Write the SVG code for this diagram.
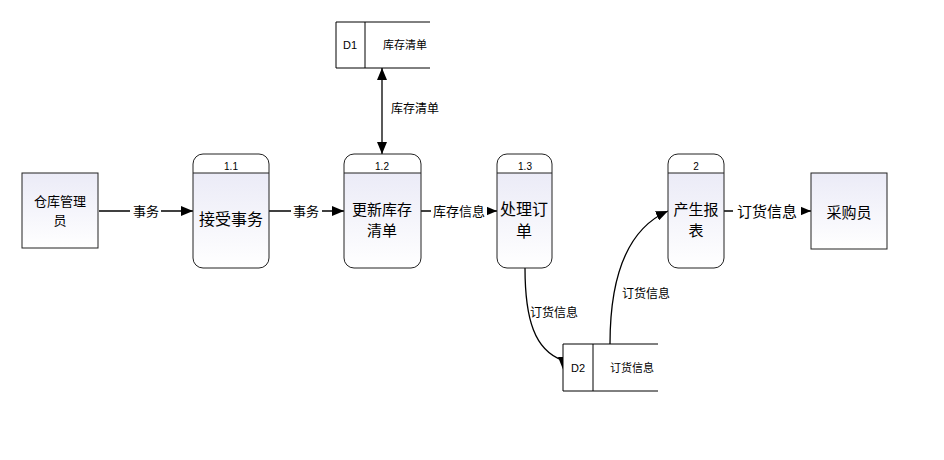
<svg xmlns="http://www.w3.org/2000/svg" width="944" height="460" viewBox="0 0 944 460">
<defs>
<linearGradient id="g" x1="0" y1="0" x2="0" y2="1">
<stop offset="0" stop-color="#ebebf7"/>
<stop offset="1" stop-color="#ffffff"/>
</linearGradient>
<marker id="ah" viewBox="0 0 12 10" refX="12" refY="5" markerWidth="12" markerHeight="10" markerUnits="userSpaceOnUse" orient="auto">
<path d="M0,0 L12,5 L0,10 Z" fill="#000"/>
</marker>
<marker id="ahs" viewBox="0 0 12 10" refX="12" refY="5" markerWidth="12" markerHeight="10" markerUnits="userSpaceOnUse" orient="auto-start-reverse">
<path d="M0,0 L12,5 L0,10 Z" fill="#000"/>
</marker>
</defs>
<style>
.box{fill:url(#g);stroke:#222;stroke-width:1}
.body{fill:url(#g);stroke:none}
.frame{fill:none;stroke:#222;stroke-width:1}
.hd{stroke:#222;stroke-width:1}
.ln{fill:none;stroke:#000;stroke-width:1.3}
.st{fill:none;stroke:#000;stroke-width:1}
text{font-family:"Noto Sans CJK SC","Liberation Sans",sans-serif;fill:#000;text-anchor:middle}
.t13{font-size:13px}
.t15{font-size:15px}
.t16{font-size:16px}
.t11{font-size:11px}
.t12{font-size:12px}
.num{font-family:"Liberation Sans",sans-serif;font-size:10px}
.lb{fill:#fff}
</style>
<rect width="944" height="460" fill="#fff"/>

<g id="connectors">
<line class="ln" x1="99" y1="211" x2="193" y2="211" marker-end="url(#ah)"/>
<rect class="lb" x="130" y="203" width="31" height="16"/>
<text class="t13" x="146" y="216">事务</text>

<line class="ln" x1="269" y1="211" x2="344" y2="211" marker-end="url(#ah)"/>
<rect class="lb" x="291" y="203" width="31" height="16"/>
<text class="t13" x="306" y="216">事务</text>

<line class="ln" x1="421" y1="211" x2="497" y2="211" marker-end="url(#ah)"/>
<rect class="lb" x="431" y="203" width="56" height="16"/>
<text class="t13" x="459" y="216">库存信息</text>

<line class="ln" x1="724" y1="211" x2="811" y2="211" marker-end="url(#ah)"/>
<rect class="lb" x="733" y="202" width="68" height="18"/>
<text class="t15" x="767" y="217">订货信息</text>

<line class="ln" x1="382" y1="68" x2="382" y2="154" marker-start="url(#ahs)" marker-end="url(#ah)"/>
<text class="t12" x="415" y="113">库存清单</text>

<path class="ln" d="M525,268 C525,320 535,350 562,360"/>
<path d="M558,357 L569,357 L564,372 Z" fill="#000"/>
<text class="t12" x="554" y="317">订货信息</text>

<path class="ln" d="M610,344 C610,280 625,230 668,211" marker-end="url(#ah)"/>
<text class="t12" x="646" y="298">订货信息</text>
</g>

<g id="e1">
<rect class="box" x="22" y="173" width="76" height="75"/>
<text class="t13" x="60" y="206">仓库管理</text>
<text class="t13" x="60" y="225">员</text>
</g>

<g id="p11">
<rect x="193" y="154" width="76" height="114" rx="10" fill="#fff"/>
<path class="body" d="M193,173 H269 V258 A10,10 0 0 1 259,268 H203 A10,10 0 0 1 193,258 Z"/>
<rect class="frame" x="193" y="154" width="76" height="114" rx="10"/>
<line class="hd" x1="193" y1="173" x2="269" y2="173"/>
<text class="num" x="231" y="170">1.1</text>
<text class="t16" x="231" y="225">接受事务</text>
</g>

<g id="p12">
<rect x="344" y="154" width="77" height="114" rx="10" fill="#fff"/>
<path class="body" d="M344,173 H421 V258 A10,10 0 0 1 411,268 H354 A10,10 0 0 1 344,258 Z"/>
<rect class="frame" x="344" y="154" width="77" height="114" rx="10"/>
<line class="hd" x1="344" y1="173" x2="421" y2="173"/>
<text class="num" x="382" y="170">1.2</text>
<text class="t15" x="382" y="215">更新库存</text>
<text class="t15" x="382" y="236">清单</text>
</g>

<g id="p13">
<rect x="497" y="154" width="55" height="114" rx="10" fill="#fff"/>
<path class="body" d="M497,173 H552 V258 A10,10 0 0 1 542,268 H507 A10,10 0 0 1 497,258 Z"/>
<rect class="frame" x="497" y="154" width="55" height="114" rx="10"/>
<line class="hd" x1="497" y1="173" x2="552" y2="173"/>
<text class="num" x="525" y="170">1.3</text>
<text class="t16" x="524" y="215">处理订</text>
<text class="t16" x="524" y="237">单</text>
</g>

<g id="p2">
<rect x="668" y="154" width="56" height="114" rx="10" fill="#fff"/>
<path class="body" d="M668,173 H724 V258 A10,10 0 0 1 714,268 H678 A10,10 0 0 1 668,258 Z"/>
<rect class="frame" x="668" y="154" width="56" height="114" rx="10"/>
<line class="hd" x1="668" y1="173" x2="724" y2="173"/>
<text class="num" x="696" y="170">2</text>
<text class="t15" x="696" y="215">产生报</text>
<text class="t15" x="696" y="236">表</text>
</g>

<g id="e2">
<rect class="box" x="811" y="173" width="76" height="76"/>
<text class="t15" x="849" y="218">采购员</text>
</g>

<g id="d1">
<rect x="336" y="22" width="94" height="46" fill="#fff"/>
<path class="st" d="M430,22 L336,22 L336,68 L430,68 M365,22 L365,68"/>
<text class="num" x="350" y="49" style="font-size:11px">D1</text>
<text class="t11" x="405" y="49">库存清单</text>
</g>

<g id="d2">
<rect x="563" y="344" width="95" height="47" fill="#fff"/>
<path class="st" d="M658,344 L563,344 L563,391 L658,391 M593,344 L593,391"/>
<text class="num" x="578" y="372" style="font-size:11px">D2</text>
<text class="t11" x="632" y="372">订货信息</text>
</g>
</svg>
